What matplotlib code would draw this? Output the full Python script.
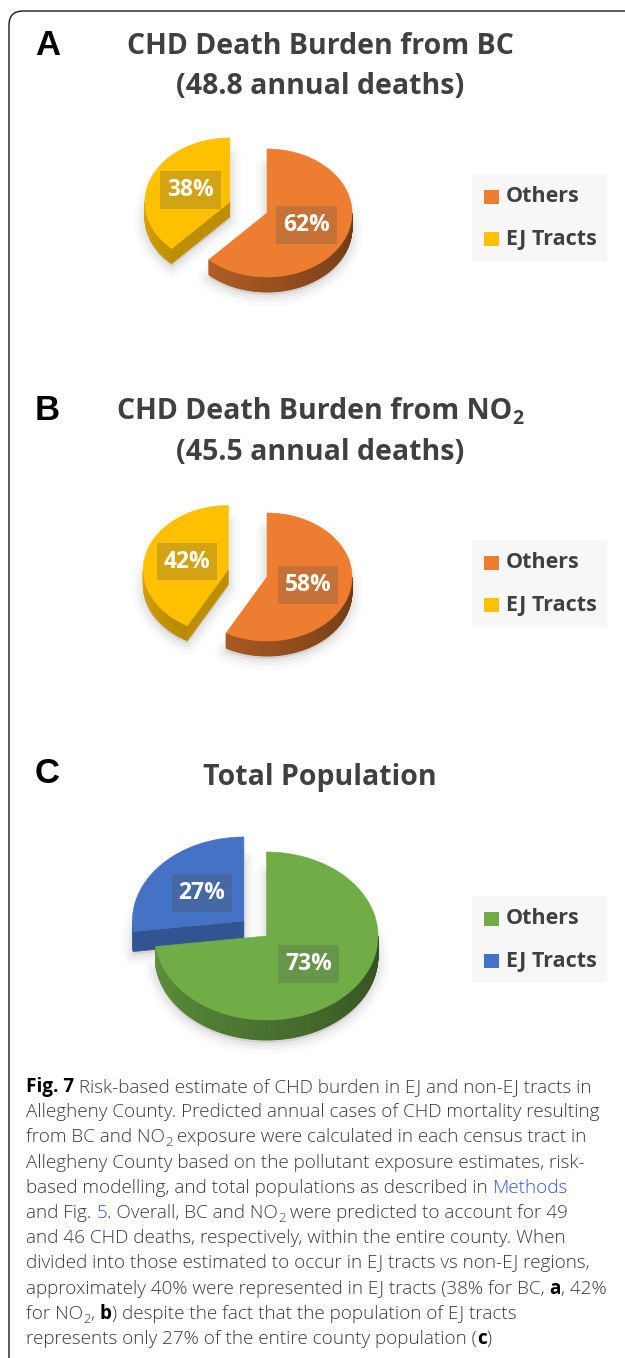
import numpy as np
import matplotlib
matplotlib.use('Agg')
import matplotlib.pyplot as plt
from matplotlib.patches import Polygon, Rectangle, FancyBboxPatch
from matplotlib.colors import to_rgb

# ---------------- data ----------------
panel_letters = ['A', 'B', 'C']
title_main = ['CHD Death Burden from BC', 'CHD Death Burden from NO', 'Total Population']
title_subscript = ['', '2', '']
title_second = ['(48.8 annual deaths)', '(45.5 annual deaths)', '']
categories = ['Others', 'EJ Tracts']
others_pct = [62, 58, 73]
ej_pct = [38, 42, 27]
others_colors = ['#ED7D31', '#ED7D31', '#70AD47']
ej_colors = ['#FFC000', '#FFC000', '#4472C4']

caption_lines = [
    [('Fig. 7', 'b'), (' Risk-based estimate of CHD burden in EJ and non-EJ tracts in', 'n')],
    [('Allegheny County. Predicted annual cases of CHD mortality resulting', 'n')],
    [('from BC and NO', 'n'), ('2', 'sub'), (' exposure were calculated in each census tract in', 'n')],
    [('Allegheny County based on the pollutant exposure estimates, risk-', 'n')],
    [('based modelling, and total populations as described in ', 'n'), ('Methods', 'link')],
    [('and Fig. ', 'n'), ('5', 'link'), ('. Overall, BC and NO', 'n'), ('2', 'sub'),
     (' were predicted to account for 49', 'n')],
    [('and 46 CHD deaths, respectively, within the entire county. When', 'n')],
    [('divided into those estimated to occur in EJ tracts vs non-EJ regions,', 'n')],
    [('approximately 40% were represented in EJ tracts (38% for BC, ', 'n'), ('a', 'b'),
     (', 42%', 'n')],
    [('for NO', 'n'), ('2', 'sub'), (', ', 'n'), ('b', 'b'),
     (') despite the fact that the population of EJ tracts', 'n')],
    [('represents only 27% of the entire county population (', 'n'), ('c', 'b'), (')', 'n')],
]

# ---------------- layout / style ----------------
W, H = 625, 1358
fig = plt.figure(figsize=(W / 100, H / 100), dpi=100)
ax = fig.add_axes([0, 0, 1, 1])
ax.set_xlim(0, W)
ax.set_ylim(H, 0)
ax.axis('off')
renderer = fig.canvas.get_renderer()

FONT = 'Open Sans'
TITLE_COL = '#404040'

letter_base = [55, 420, 783]
title_base1 = [54, 419, 785]
title_base2 = [94, 460, None]
title_cx = 320

pie_cx = [267, 267, 266.5]
pie_cy = [213, 577, 936]
pie_a = [85, 85, 111.5]
pie_b = [64, 64, 84]
pie_depth = [15, 15, 20]
pie_explode = [0.47, 0.47, 0.27]

legend_top = [174, 540, 896]

# border
ax.add_patch(FancyBboxPatch((9, 11), 660, 1420,
                            boxstyle='round,pad=0,rounding_size=14',
                            fc='none', ec='#1a1a1a', lw=1.0, zorder=0.5))


def text_width(s, **props):
    t = ax.text(0, 0, '|' + s + '|', **props)
    w = t.get_window_extent(renderer).width
    t.remove()
    t2 = ax.text(0, 0, '||', **props)
    w2 = t2.get_window_extent(renderer).width
    t2.remove()
    return w - w2


def draw_runs(x, y, parts, center=None):
    widths = [text_width(s, **p) for s, p, dy in parts]
    if center is not None:
        x = center - sum(widths) / 2
    cur = x
    for (s, p, dy), w in zip(parts, widths):
        ax.text(cur, y + dy, s, ha='left', va='baseline', zorder=10, **p)
        cur += w


def shade(color, f):
    r, g, b = to_rgb(color)
    return (r * f, g * f, b * f)


def ell(cx, cy, a, b, th):
    t = np.deg2rad(th)
    return cx + a * np.sin(t), cy - b * np.cos(t)


def draw_pie(cx, cy, a, b, depth, values, colors, explode):
    total = float(sum(values))
    bounds = np.concatenate([[0], np.cumsum(values)]) / total * 360.0
    info = []
    for i in range(len(values)):
        t1, t2 = bounds[i], bounds[i + 1]
        mid = 0.5 * (t1 + t2)
        sx, sy = ell(0, 0, a * explode[i], b * explode[i], mid)
        info.append((i, t1, t2, mid, cx + sx, cy + sy))
    # soft shadows
    for (i, t1, t2, mid, scx, scy) in info:
        th = np.linspace(t1, t2, 120)
        xs, ys = ell(scx, scy, a, b, th)
        px = np.r_[scx, xs]
        py = np.r_[scy, ys] + depth + 3
        for lw, al in [(16, 0.02), (10, 0.03), (5, 0.04)]:
            ax.add_patch(Polygon(np.c_[px, py], closed=True, fc=(0, 0, 0, al),
                                 ec=(0, 0, 0, al), lw=lw, joinstyle='round', zorder=1))
    z = 2
    for (i, t1, t2, mid, scx, scy) in sorted(info, key=lambda r: r[5]):
        col = colors[i]
        lo, hi = max(t1, 90), min(t2, 270)
        if hi > lo:
            th = np.linspace(lo, hi, int((hi - lo) * 1.5) + 2)
            for j in range(len(th) - 1):
                x0, y0 = ell(scx, scy, a, b, th[j])
                x1, y1 = ell(scx, scy, a, b, th[j + 1])
                f = 0.45 + 0.4 * ((th[j] + th[j + 1]) / 2 - 90) / 180
                c = shade(col, f)
                ax.add_patch(Polygon([(x0, y0), (x1, y1), (x1, y1 + depth), (x0, y0 + depth)],
                                     closed=True, fc=c, ec=c, lw=0.6, zorder=z))
        for phi, vis in [(t1, np.sin(np.deg2rad(t1)) < -1e-6), (t2, np.sin(np.deg2rad(t2)) > 1e-6)]:
            if vis:
                rx, ry = ell(scx, scy, a, b, phi)
                c = shade(col, 0.74)
                ax.add_patch(Polygon([(scx, scy), (rx, ry), (rx, ry + depth), (scx, scy + depth)],
                                     closed=True, fc=c, ec=c, lw=0.5, zorder=z + 0.1))
        th = np.linspace(t1, t2, 240)
        xs, ys = ell(scx, scy, a, b, th)
        ax.add_patch(Polygon(np.c_[np.r_[scx, xs], np.r_[scy, ys]], closed=True,
                             fc=col, ec=col, lw=0.4, zorder=z + 0.2))
        # label
        lx, ly = ell(scx, scy, a * 0.5, b * 0.5, mid)
        ax.text(lx, ly, f'{values[i]}%', ha='center', va='center', color='white',
                fontfamily=FONT, fontweight='bold', fontsize=16.5, zorder=z + 0.4,
                bbox=dict(boxstyle='square,pad=0.3', fc=(0.31, 0.31, 0.31, 0.25), ec='none'))
        z += 1


for k in range(3):
    # panel letter
    ax.text(35, letter_base[k], panel_letters[k], ha='left', va='baseline',
            fontfamily='Liberation Sans', fontweight='bold', fontsize=25, color='black')
    tprops = dict(fontfamily=FONT, fontweight='bold', fontsize=20.5, color=TITLE_COL)
    parts = [(title_main[k], tprops, 0)]
    if title_subscript[k]:
        parts.append((title_subscript[k], dict(tprops, fontsize=14), 5))
    draw_runs(0, title_base1[k], parts, center=title_cx)
    if title_second[k]:
        ax.text(title_cx, title_base2[k], title_second[k], ha='center', va='baseline', **tprops)

    # pie
    draw_pie(pie_cx[k], pie_cy[k], pie_a[k], pie_b[k], pie_depth[k],
             [others_pct[k], ej_pct[k]], [others_colors[k], ej_colors[k]],
             [0.0, pie_explode[k]])

    # legend
    top = legend_top[k]
    ax.add_patch(Rectangle((472, top), 135, 87, fc='#F7F7F7', ec='none', zorder=1))
    for j, (lab, col) in enumerate(zip(categories, [others_colors[k], ej_colors[k]])):
        yc = top + 23 + j * 42
        ax.add_patch(Rectangle((484, yc - 7.5), 15, 14, fc=col, ec='none', zorder=2))
        ax.text(506, yc, lab, ha='left', va='center', fontfamily=FONT, fontweight='bold',
                fontsize=15.5, color=TITLE_COL, zorder=3)

# caption
norm = dict(fontfamily=FONT, fontsize=13.6, color='#3a3a3a', fontweight='light')
styles = {
    'n': (norm, 0),
    'b': (dict(norm, color='black', fontweight='bold'), 0),
    'link': (dict(norm, color='#3b55e0'), 0),
    'sub': (dict(norm, fontsize=9.5), 4),
}
y0 = 1092
for li, line in enumerate(caption_lines):
    parts = [(s, styles[st][0], styles[st][1]) for s, st in line]
    draw_runs(26, y0 + li * 25.2, parts)

fig.savefig('out.png', dpi=100)
